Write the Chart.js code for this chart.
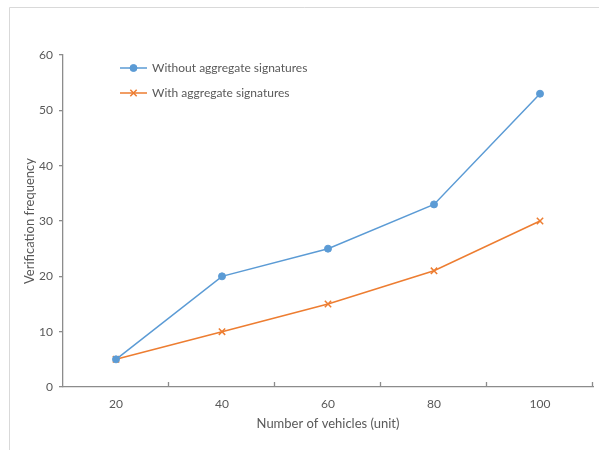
<!DOCTYPE html>
<html>
<head>
<meta charset="utf-8">
<script src="https://cdn.jsdelivr.net/npm/chart.js@4/dist/chart.umd.min.js"></script>
<style>
html,body{margin:0;padding:0;background:#fff;}
#wrap{width:599px;height:450px;position:relative;}
</style>
</head>
<body>
<div id="wrap"><canvas id="c" width="599" height="450"></canvas></div>
<script>
const categories = ['20', '40', '60', '80', '100'];
const withoutAggregate = [5, 20, 25, 33, 53];
const withAggregate = [5, 10, 15, 21, 30];
const seriesNames = ['Without aggregate signatures', 'With aggregate signatures'];
const yTicks = [0, 10, 20, 30, 40, 50, 60];
const xTitle = 'Number of vehicles (unit)';
const yTitle = 'Verification frequency';

const BLUE = '#5B9BD5', ORANGE = '#ED7D31', AXIS = '#8c8c8c', TXT = '#595959';
const FONT = 'Lato, "Open Sans", sans-serif';

const framePlugin = {
  id: 'frame',
  beforeDraw(chart) {
    const ctx = chart.ctx;
    ctx.save();
    ctx.fillStyle = '#fff';
    ctx.fillRect(0, 0, chart.width, chart.height);
    ctx.strokeStyle = '#d9d9d9';
    ctx.lineWidth = 1;
    ctx.beginPath();
    ctx.moveTo(9.5, 450);
    ctx.lineTo(9.5, 7.5);
    ctx.lineTo(599, 7.5);
    ctx.stroke();
    ctx.restore();
  }
};

const xTickPlugin = {
  id: 'xticks',
  afterDraw(chart) {
    const ctx = chart.ctx;
    const xs = chart.scales.x;
    const ca = chart.chartArea;
    ctx.save();
    ctx.strokeStyle = AXIS;
    ctx.lineWidth = 1.3;
    ctx.beginPath();
    const n = categories.length;
    for (let i = 1; i <= n; i++) {
      let px;
      if (i < n) px = (xs.getPixelForValue(i - 1) + xs.getPixelForValue(i)) / 2;
      else px = xs.right;
      px = Math.round(px) - 0.5;
      ctx.moveTo(px, ca.bottom);
      ctx.lineTo(px, ca.bottom - 5);
    }
    ctx.stroke();
    ctx.restore();
  }
};

const legendPlugin = {
  id: 'innerLegend',
  afterDraw(chart) {
    const ctx = chart.ctx;
    const ca = chart.chartArea;
    const x0 = ca.left + 57, y0 = ca.top + 13, gap = 25;
    ctx.save();
    chart.data.datasets.forEach((ds, i) => {
      const y = y0 + i * gap;
      ctx.strokeStyle = ds.borderColor;
      ctx.fillStyle = ds.borderColor;
      ctx.lineWidth = 1.5;
      ctx.beginPath();
      ctx.moveTo(x0, y);
      ctx.lineTo(x0 + 27, y);
      ctx.stroke();
      ctx.lineWidth = ds.pointBorderWidth || 1.5;
      Chart.helpers.drawPoint(ctx, {
        pointStyle: ds.pointStyle, radius: ds.pointRadius, borderWidth: ds.pointBorderWidth || 1.5, rotation: 0
      }, x0 + 13.5, y);
      ctx.fillStyle = TXT;
      ctx.font = '12px ' + FONT;
      ctx.textBaseline = 'middle';
      ctx.textAlign = 'left';
      ctx.fillText(ds.label, x0 + 32, y);
    });
    ctx.restore();
  }
};

const ctx = document.getElementById('c').getContext('2d');
new Chart(ctx, {
  type: 'line',
  data: {
    labels: categories,
    datasets: [
      {
        label: seriesNames[0],
        data: withoutAggregate,
        borderColor: BLUE,
        backgroundColor: BLUE,
        pointBackgroundColor: BLUE,
        pointBorderColor: BLUE,
        pointStyle: 'circle',
        pointRadius: 3.5,
        pointBorderWidth: 1,
        borderWidth: 1.5,
        tension: 0
      },
      {
        label: seriesNames[1],
        data: withAggregate,
        borderColor: ORANGE,
        backgroundColor: ORANGE,
        pointBorderColor: ORANGE,
        pointStyle: 'crossRot',
        pointRadius: 4.5,
        pointBorderWidth: 1.5,
        borderWidth: 1.5,
        tension: 0
      }
    ]
  },
  options: {
    responsive: false,
    animation: false,
    devicePixelRatio: 1,
    layout: { padding: { left: 0, right: 5, top: 55, bottom: 0 } },
    plugins: {
      legend: { display: false },
      tooltip: { enabled: false }
    },
    scales: {
      x: {
        type: 'category',
        offset: true,
        grid: { display: false, drawTicks: false },
        border: { display: true, color: AXIS, width: 1.3 },
        ticks: { color: TXT, font: { family: FONT, size: 12 }, padding: 10, maxRotation: 0 },
        title: { display: true, text: xTitle, color: TXT, font: { family: FONT, size: 13 }, padding: { top: 0, bottom: 18 } },
        afterFit(s) { s.height = 63; }
      },
      y: {
        min: 0, max: 60,
        afterBuildTicks(s) { s.ticks = yTicks.map(v => ({ value: v })); },
        grid: { drawOnChartArea: false, drawTicks: true, tickLength: 4, color: AXIS, lineWidth: 1.3 },
        border: { display: true, color: AXIS, width: 1.3 },
        ticks: { color: TXT, font: { family: FONT, size: 12 }, padding: 6 },
        title: { display: true, text: yTitle, color: TXT, font: { family: FONT, size: 13 }, padding: { top: 22, bottom: 0 } },
        afterFit(s) { s.width = 63; }
      }
    }
  },
  plugins: [framePlugin, xTickPlugin, legendPlugin]
});
</script>
</body>
</html>
